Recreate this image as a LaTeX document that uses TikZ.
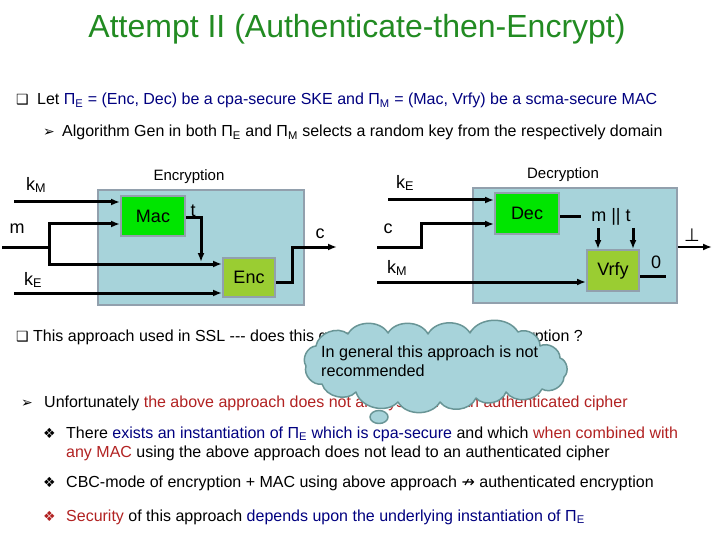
\documentclass[tikz,border=0pt]{standalone}
\usepackage{fontspec}
\setmainfont{Liberation Sans}
\newfontfamily\symfont{DejaVu Sans}
\usepackage[svgnames]{xcolor}
\usetikzlibrary{arrows.meta}

\tikzset{
  panel/.style={draw=LightSlateGray!80, line width=2pt, fill=PowderBlue!85!LightSlateGray},
  algo/.style={draw=LightSlateGray!80, line width=2pt, font=\fontsize{18}{20}\selectfont},
  wire/.style={line width=3pt},
  tip/.style={-{Latex[length=9pt,width=7pt]}},
  lbl/.style={inner sep=0pt, font=\fontsize{18}{20}\selectfont},
  body/.style={anchor=base west, inner sep=0pt, font=\fontsize{16}{19}\selectfont},
  bul/.style={anchor=base west, inner sep=0pt, font=\symfont\fontsize{14}{16}\selectfont},
  thought/.style={draw=CadetBlue!70!gray, fill=PowderBlue!85!LightSlateGray, line width=1.5pt, line join=round}
}

\begin{document}
\begin{tikzpicture}[x=1pt, y=-1pt]
    \fill[white] (0,0) rectangle (720,540);
    \useasboundingbox (0,0) rectangle (720,540);

    \node[anchor=base, inner sep=0pt, text=ForestGreen, font=\fontsize{32}{36}\selectfont] (title) at (357,38) {Attempt II (Authenticate-then-Encrypt)};

    % top bullets
    \node[bul] (b1) at (16,105) {❑};
    \node[body] (line1) at (37,105) {Let \textcolor{Navy}{Π\textsubscript{E} = (Enc, Dec) be a cpa-secure SKE and Π\textsubscript{M} = (Mac, Vrfy) be a scma-secure MAC}};
    \node[bul] (b2) at (43,137) {➢};
    \node[body] (line2) at (62,137) {Algorithm Gen in both Π\textsubscript{E} and Π\textsubscript{M} selects a random key from the respectively domain};

    % encryption side
    \node[panel, minimum width=206pt, minimum height=115pt] (encbox) at (201,247.5) {};
    \node[inner sep=0pt, font=\fontsize{15}{18}\selectfont] (enclbl) at (189,177) {Encryption};
    \node[algo, fill=Lime!90!black, minimum width=64pt, minimum height=40pt] (mac) at (153,216) {Mac};
    \node[algo, fill=YellowGreen, minimum width=52pt, minimum height=39pt] (enc) at (249,277.5) {Enc};

    \coordinate (kMin) at (14,202);
    \coordinate (mIn) at (2,247);
    \coordinate (mSplit) at (49,247);
    \coordinate (kEin) at (14,293);
    \coordinate (tDrop) at (201,262);
    \coordinate (cBend) at (292,247);
    \coordinate (cOut) at (337,247);

    \node[lbl] (kM) at (36,185) {k\textsubscript{M}};
    \node[lbl] (m) at (17,229) {m};
    \node[lbl] (kE) at (33,280) {k\textsubscript{E}};
    \node[lbl] (t) at (193,211) {t};
    \node[lbl] (c) at (320,234) {c};

    \draw[wire, tip] (kMin) -- (kMin -| mac.west);
    \draw[wire] (mIn) -- (mSplit);
    \draw[wire, tip] (mSplit) |- ([yshift=-8pt]mac.west);
    \draw[wire, tip] (mSplit) |- ([yshift=13.5pt]enc.west);
    \draw[wire, tip] ([yshift=-2pt]mac.east) -| (tDrop);
    \draw[wire, tip] (kEin) -- (kEin -| enc.west);
    \draw[wire, tip] ([yshift=-4.5pt]enc.east) -| (cBend) -- (cOut);

    % decryption side
    \node[panel, minimum width=204pt, minimum height=115pt] (decbox) at (575,245.5) {};
    \node[inner sep=0pt, font=\fontsize{15}{18}\selectfont] (declbl) at (563,175) {Decryption};
    \node[algo, fill=Lime!90!black, minimum width=64pt, minimum height=41pt] (dec) at (527,213.5) {Dec};
    \node[algo, fill=YellowGreen, minimum width=52pt, minimum height=41pt] (vrfy) at (613,270.5) {Vrfy};

    \coordinate (kE2in) at (388,200);
    \coordinate (c2in) at (377,247);
    \coordinate (cStep) at (421,247);
    \coordinate (kM2in) at (377,282);
    \coordinate (decOut) at (581,217);
    \coordinate (mDown) at (598,228);
    \coordinate (tDown) at (633,228);
    \coordinate (zeroOut) at (666,276);
    \coordinate (botOut) at (712,247);

    \node[lbl] (kE2) at (405,183) {k\textsubscript{E}};
    \node[lbl] (c2) at (388,229) {c};
    \node[lbl] (kM2) at (397,268) {k\textsubscript{M}};
    \node[lbl] (mt) at (611,217) {m || t};
    \node[lbl] (zero) at (656,262) {0};
    \node[inner sep=0pt, font=\symfont\fontsize{18}{20}\selectfont] (bot) at (692,235) {⊥};

    \draw[wire, tip] (kE2in) -- (kE2in -| dec.west);
    \draw[wire, tip] (c2in) -- (cStep) |- ([yshift=-10.5pt]dec.west);
    \draw[wire, tip] (kM2in) -- (kM2in -| vrfy.west);
    \draw[wire] ([yshift=-3.5pt]dec.east) -- (decOut);
    \draw[wire, tip] (mDown) -- (mDown |- vrfy.north);
    \draw[wire, tip] (tDown) -- (tDown |- vrfy.north);
    \draw[wire] ([yshift=-5.5pt]vrfy.east) -- (zeroOut);
    \draw[line width=2.5pt, tip] (decbox.east |- botOut) -- (botOut);

    % lower bullets
    \node[bul] (b3) at (16,341) {❑};
    \node[body] (line3) at (33,341) {This approach used in SSL -{}-{}- does this guarantee authenticated encryption ?};
    \node[bul] (b4) at (21,407) {➢};
    \node[body] (line4) at (44,407) {Unfortunately \textcolor{FireBrick}{the above approach does not always lead to an authenticated cipher}};

    % thought cloud
    \draw[thought] (316,346) foreach \x/\y in {348/334, 388/333, 428/334, 470/333, 518/332, 540/346, 560/358,
        564/377, 542/389, 506/392, 476/398, 440/402, 398/402, 356/392, 322/384, 306/366, 316/346}
        {to[bend left=60] (\x,\y)} -- cycle;
    \draw[thought] (379,417) ellipse (9pt and 6.5pt);
    \node[anchor=north west, inner sep=0pt, align=left, font=\fontsize{16.2}{19}\selectfont] (bubbletxt) at (321,346) {In general this approach is not\\recommended};

    \node[bul] (b5) at (43,438) {❖};
    \node[body] (line5) at (66,438) {There \textcolor{Navy}{exists an instantiation of Π\textsubscript{E} which is cpa-secure} and which \textcolor{FireBrick}{when combined with}};
    \node[body] (line5b) at (66,457) {\textcolor{FireBrick}{any MAC} using the above approach does not lead to an authenticated cipher};
    \node[bul] (b6) at (43,487) {❖};
    \node[body] (line6) at (66,487) {CBC-mode of encryption + MAC using above approach {\symfont ↛} authenticated encryption};
    \node[bul, text=FireBrick] (b7) at (43,521) {❖};
    \node[body] (line7) at (66,521) {\textcolor{FireBrick}{Security} of this approach \textcolor{Navy}{depends upon the underlying instantiation of Π\textsubscript{E}}};
\end{tikzpicture}
\end{document}
